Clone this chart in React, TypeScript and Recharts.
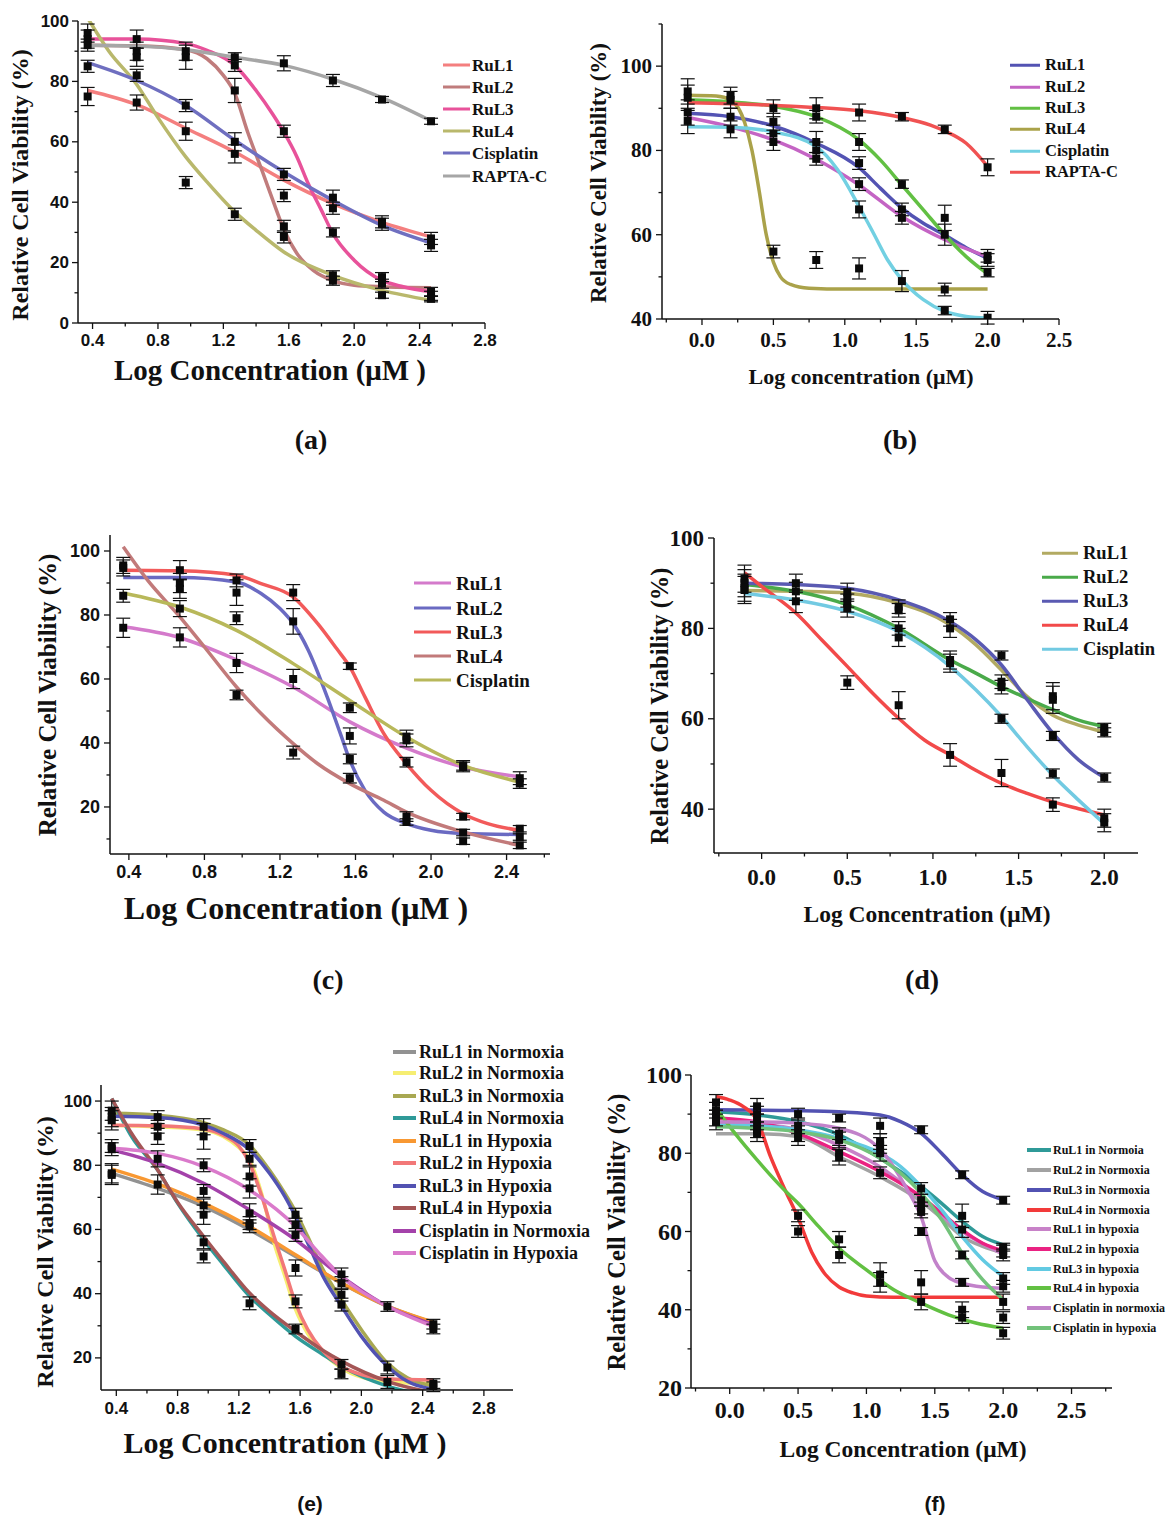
import { ComposedChart, Line, Scatter, XAxis, YAxis, ErrorBar } from 'recharts'

type Pt = [number, number]
type Obs = [number, number, number]

const SERIF = '"Liberation Serif", "Times New Roman", serif'
const SANS = '"Liberation Sans", Arial, sans-serif'

// ---------- (a) ----------
const aNames = ['RuL1', 'RuL2', 'RuL3', 'RuL4', 'Cisplatin', 'RAPTA-C']
const aColors = ['#f47f7f', '#c07c7c', '#e8529a', '#b9b86c', '#6f6fc0', '#a6a6a6']
const aCurves: Pt[][] = [
  [[0.37, 77], [0.67, 72.3], [0.97, 64.5], [1.27, 56.6], [1.57, 47.3], [1.87, 39.5], [2.17, 33.3], [2.47, 28.5]],
  [[0.37, 92], [0.67, 91.8], [0.97, 90.5], [1.1, 87.5], [1.2, 82], [1.27, 76], [1.35, 63], [1.45, 48.5], [1.5, 41], [1.57, 31], [1.65, 23], [1.75, 17.4], [1.87, 14], [2.0, 12.5], [2.17, 12], [2.47, 11.7]],
  [[0.37, 94], [0.67, 94], [0.97, 92.5], [1.1, 90.3], [1.27, 85.3], [1.4, 77], [1.5, 69.3], [1.57, 63.2], [1.65, 55], [1.72, 46], [1.8, 37.3], [1.87, 29.6], [2.0, 20.8], [2.17, 14.1], [2.3, 12], [2.47, 10.3]],
  [[0.37, 101], [0.5, 90], [0.67, 79], [0.8, 68], [0.97, 55], [1.1, 46.7], [1.27, 36.8], [1.4, 30.7], [1.57, 23.5], [1.87, 15.8], [2.17, 10.8], [2.47, 7.5]],
  [[0.37, 86.2], [0.67, 80.3], [0.97, 72], [1.27, 60.5], [1.57, 50], [1.87, 40.6], [2.17, 32.3], [2.47, 26.5]],
  [[0.37, 92], [0.67, 91.7], [0.97, 90.5], [1.27, 88], [1.57, 85.3], [1.87, 80.7], [2.17, 74.6], [2.47, 66.9]],
]
const aPoints: Obs[] = [
  [0.37, 96, 3], [0.37, 94, 3], [0.37, 92, 2], [0.37, 85, 2], [0.37, 75, 3],
  [0.67, 94, 3], [0.67, 90, 3], [0.67, 88, 3], [0.67, 82, 2], [0.67, 73, 2.5],
  [0.97, 90, 3], [0.97, 88, 4], [0.97, 72, 2], [0.97, 63.5, 3], [0.97, 46.5, 2],
  [1.27, 88, 1.5], [1.27, 85.3, 2], [1.27, 77, 4], [1.27, 60, 3], [1.27, 56, 3], [1.27, 36, 2],
  [1.57, 86, 2.5], [1.57, 63.5, 2], [1.57, 49.2, 2], [1.57, 42.2, 2], [1.57, 32, 2], [1.57, 28.5, 2],
  [1.87, 80.3, 2], [1.87, 41.5, 2.5], [1.87, 38, 2], [1.87, 30, 1.5], [1.87, 15.8, 1.5], [1.87, 14, 1.5],
  [2.17, 74, 1], [2.17, 33.5, 2], [2.17, 32.7, 2], [2.17, 15.2, 1.5], [2.17, 13, 1.5], [2.17, 9.2, 1],
  [2.47, 66.8, 1], [2.47, 28, 2], [2.47, 25.7, 2], [2.47, 10.3, 1.5], [2.47, 9, 1.5], [2.47, 8, 1],
]
const aXTicks = [0.4, 0.6, 0.8, 1.0, 1.2, 1.4, 1.6, 1.8, 2.0, 2.2, 2.4, 2.6, 2.8]
const aXMajor = [0.4, 0.8, 1.2, 1.6, 2.0, 2.4, 2.8]
const aYTicks = [0, 10, 20, 30, 40, 50, 60, 70, 80, 90, 100]
const aYMajor = [0, 20, 40, 60, 80, 100]

// ---------- (b) ----------
const bNames = ['RuL1', 'RuL2', 'RuL3', 'RuL4', 'Cisplatin', 'RAPTA-C']
const bColors = ['#5353b3', '#c464c4', '#62c043', '#aaa24a', '#72d0e2', '#f05252']
const bCurves: Pt[][] = [
  [[-0.1, 88.8], [0.2, 88], [0.5, 85.8], [0.8, 81.7], [1.1, 75.9], [1.25, 71], [1.4, 66.3], [1.55, 62.7], [1.7, 59.9], [1.85, 56.9], [2.0, 54.4]],
  [[-0.1, 87.8], [0.2, 85.6], [0.5, 82.5], [0.8, 77.9], [1.1, 71.8], [1.4, 64.3], [1.7, 58.8], [2.0, 54.8]],
  [[-0.1, 92], [0.2, 91.5], [0.5, 90.5], [0.8, 88], [1.1, 82.5], [1.25, 77.7], [1.4, 71.8], [1.55, 65.9], [1.7, 60], [1.85, 54.8], [2.0, 50.7]],
  [[-0.1, 93.1], [0.1, 92.9], [0.2, 92], [0.3, 86.5], [0.35, 80], [0.4, 70.5], [0.45, 60], [0.5, 53.5], [0.55, 50], [0.62, 48.2], [0.75, 47.3], [1.0, 47.1], [2.0, 47.1]],
  [[-0.1, 85.6], [0.2, 85.5], [0.5, 84.4], [0.8, 80.9], [0.95, 75.4], [1.1, 66.7], [1.2, 60.4], [1.3, 54], [1.4, 49.3], [1.55, 44.6], [1.7, 41.8], [1.85, 40.6], [2.0, 40.2]],
  [[-0.1, 91.3], [0.2, 91.1], [0.5, 90.7], [0.8, 90.2], [1.1, 89.4], [1.4, 87.8], [1.6, 86], [1.7, 84.6], [1.85, 81.7], [2.0, 76.2]],
]
const bPoints: Obs[] = [
  [-0.1, 94, 3], [-0.1, 92.5, 3], [-0.1, 89, 3], [-0.1, 87, 3],
  [0.2, 93, 2], [0.2, 92, 2], [0.2, 88, 2], [0.2, 85, 2],
  [0.5, 90, 2], [0.5, 86.8, 2], [0.5, 84, 2], [0.5, 82, 2], [0.5, 56, 1.5],
  [0.8, 90, 2.5], [0.8, 88, 1.5], [0.8, 82, 2.5], [0.8, 80, 2], [0.8, 78, 1.5], [0.8, 54, 2],
  [1.1, 89, 2], [1.1, 82, 2], [1.1, 77, 1.5], [1.1, 72, 1.5], [1.1, 66, 2], [1.1, 52, 2.5],
  [1.4, 88, 1], [1.4, 72, 1], [1.4, 66, 1.5], [1.4, 64, 1.5], [1.4, 49, 2.5],
  [1.7, 85, 1], [1.7, 64, 3], [1.7, 60, 2.5], [1.7, 47, 1.5], [1.7, 42, 1],
  [2.0, 76, 2], [2.0, 55, 1.5], [2.0, 54, 1.5], [2.0, 51, 1], [2.0, 40.3, 1.5],
]
const bXTicks = [-0.25, 0, 0.25, 0.5, 0.75, 1.0, 1.25, 1.5, 1.75, 2.0, 2.25, 2.5]
const bXMajor = [0, 0.5, 1.0, 1.5, 2.0, 2.5]
const bYTicks = [40, 50, 60, 70, 80, 90, 100, 110]
const bYMajor = [40, 60, 80, 100]

// ---------- (c) ----------
const cNames = ['RuL1', 'RuL2', 'RuL3', 'RuL4', 'Cisplatin']
const cColors = ['#d47acb', '#6a6ac2', '#f25a5a', '#c27a7a', '#b8b85a']
const cCurves: Pt[][] = [
  [[0.37, 76.3], [0.67, 72.9], [0.97, 66], [1.27, 57.5], [1.57, 46.6], [1.87, 38.4], [2.17, 32.5], [2.47, 29.4]],
  [[0.37, 91.7], [0.67, 91.7], [0.97, 90.3], [1.1, 86.7], [1.2, 82], [1.27, 77.3], [1.35, 69], [1.45, 54.4], [1.52, 42.9], [1.57, 34.6], [1.65, 25.2], [1.75, 18.4], [1.87, 14.8], [2.0, 12.7], [2.17, 11.7], [2.47, 11.4]],
  [[0.37, 94], [0.67, 93.8], [0.97, 92.4], [1.1, 89.8], [1.27, 85.6], [1.4, 77.3], [1.5, 69.5], [1.57, 63.8], [1.65, 54.4], [1.75, 42.9], [1.87, 33.5], [2.0, 25.2], [2.17, 17.9], [2.3, 14.8], [2.47, 12.7]],
  [[0.37, 101.3], [0.5, 90.8], [0.67, 79.4], [0.8, 70], [0.97, 57.5], [1.1, 49.2], [1.27, 39.8], [1.4, 33.5], [1.57, 27.3], [1.75, 22.1], [1.87, 18.4], [2.17, 12.2], [2.47, 8]],
  [[0.37, 86.9], [0.67, 82.5], [0.97, 75.2], [1.27, 64.8], [1.57, 53.3], [1.87, 41.9], [2.17, 33], [2.47, 27.8]],
]
const cPoints: Obs[] = [
  [0.37, 95.5, 2.5], [0.37, 94.7, 2.5], [0.37, 86, 2], [0.37, 76, 3],
  [0.67, 94, 3], [0.67, 90, 3], [0.67, 88.2, 3], [0.67, 82, 2.5], [0.67, 73, 3],
  [0.97, 90.8, 2], [0.97, 87, 4], [0.97, 79, 2], [0.97, 65, 3], [0.97, 55, 1.5],
  [1.27, 87, 2.5], [1.27, 78, 4], [1.27, 60, 3], [1.27, 37, 2],
  [1.57, 64, 1], [1.57, 51, 1.5], [1.57, 42.2, 2.5], [1.57, 35, 1.5], [1.57, 29, 1.5],
  [1.87, 42, 2], [1.87, 40.8, 2], [1.87, 34, 1.5], [1.87, 17, 1.5], [1.87, 15.3, 1],
  [2.17, 33, 1.5], [2.17, 32.5, 1.5], [2.17, 17, 1], [2.17, 12, 1], [2.17, 9.3, 1],
  [2.47, 29, 2], [2.47, 27.3, 1.5], [2.47, 13.2, 1], [2.47, 10.6, 1], [2.47, 8, 1],
]
const cXTicks = [0.4, 0.6, 0.8, 1.0, 1.2, 1.4, 1.6, 1.8, 2.0, 2.2, 2.4, 2.6]
const cXMajor = [0.4, 0.8, 1.2, 1.6, 2.0, 2.4]
const cYTicks = [10, 20, 30, 40, 50, 60, 70, 80, 90, 100]
const cYMajor = [20, 40, 60, 80, 100]

// ---------- (d) ----------
const dNames = ['RuL1', 'RuL2', 'RuL3', 'RuL4', 'Cisplatin']
const dColors = ['#b2aa62', '#4aaa4a', '#5a5ab2', '#f24a4a', '#72cae2']
const dCurves: Pt[][] = [
  [[-0.1, 88.4], [0.2, 88.2], [0.5, 87.8], [0.8, 85.6], [1.1, 80.8], [1.25, 76.4], [1.4, 70.8], [1.55, 64.9], [1.7, 60.8], [1.85, 58.6], [2.0, 57.1]],
  [[-0.1, 89.7], [0.2, 88.2], [0.5, 85.2], [0.8, 80], [1.1, 73], [1.25, 70.1], [1.4, 67.1], [1.55, 64.5], [1.7, 62], [1.85, 59.7], [2.0, 58.3]],
  [[-0.1, 90], [0.2, 89.7], [0.5, 88.9], [0.8, 86.3], [1.1, 81.5], [1.25, 77.5], [1.4, 71.9], [1.55, 64.2], [1.7, 56.8], [1.85, 50.9], [2.0, 47]],
  [[-0.1, 92.3], [0.0, 89.3], [0.2, 83.4], [0.35, 77.5], [0.5, 71.6], [0.65, 65.6], [0.8, 60.1], [0.95, 55.3], [1.1, 52], [1.25, 48.6], [1.4, 45.7], [1.55, 43.5], [1.7, 41.6], [1.85, 40.1], [2.0, 38.7]],
  [[-0.1, 87.7], [0.2, 86.3], [0.5, 83.8], [0.8, 79.3], [1.1, 71.6], [1.25, 66.4], [1.4, 60.5], [1.55, 53.8], [1.7, 47.5], [1.85, 42], [2.0, 36.8]],
]
const dPoints: Obs[] = [
  [-0.1, 91, 3], [-0.1, 90, 3], [-0.1, 89, 3], [-0.1, 88.5, 3],
  [0.2, 90, 2], [0.2, 88.2, 2], [0.2, 86, 2.5],
  [0.5, 88, 2], [0.5, 86.7, 2], [0.5, 85.6, 2], [0.5, 84.5, 2], [0.5, 68, 1.5],
  [0.8, 84.8, 1.5], [0.8, 84, 1.5], [0.8, 80, 1.5], [0.8, 78, 2], [0.8, 63, 3],
  [1.1, 82, 1.5], [1.1, 80, 2], [1.1, 73, 2], [1.1, 72.3, 2], [1.1, 52, 2.5],
  [1.4, 74, 1], [1.4, 68.2, 1.5], [1.4, 67, 1.5], [1.4, 60, 1], [1.4, 48, 3],
  [1.7, 65, 3], [1.7, 64.2, 3], [1.7, 56.2, 1], [1.7, 47.9, 1], [1.7, 41, 1.5],
  [2.0, 58, 1], [2.0, 57, 1], [2.0, 47, 1], [2.0, 38, 2], [2.0, 37, 2],
]
const dXTicks = [-0.25, 0, 0.25, 0.5, 0.75, 1.0, 1.25, 1.5, 1.75, 2.0]
const dXMajor = [0, 0.5, 1.0, 1.5, 2.0]
const dYTicks = [40, 50, 60, 70, 80, 90, 100]
const dYMajor = [40, 60, 80, 100]

// ---------- (e) ----------
const eNames = [
  'RuL1 in Normoxia', 'RuL2 in Normoxia', 'RuL3 in Normoxia', 'RuL4 in Normoxia',
  'RuL1 in Hypoxia', 'RuL2 in Hypoxia', 'RuL3 in Hypoxia', 'RuL4 in Hypoxia',
  'Cisplatin in Normoxia', 'Cisplatin in Hypoxia',
]
const eColors = ['#929292', '#f6ee72', '#a8a852', '#2f9a98', '#f89832', '#f27878', '#5252b2', '#a45656', '#a442aa', '#da7acb']
const eCurves: Pt[][] = [
  [[0.37, 77.5], [0.67, 72.8], [0.97, 67.2], [1.27, 59.9], [1.57, 51.6], [1.87, 43.3], [2.17, 36.1], [2.47, 30.9]],
  [[0.37, 92.5], [0.67, 92], [0.97, 91], [1.1, 88.9], [1.2, 85.5], [1.27, 81.7], [1.35, 71], [1.43, 55.8], [1.5, 45.5], [1.57, 35.1], [1.65, 27.5], [1.75, 21.5], [1.87, 16.8], [2.0, 14], [2.17, 12.6], [2.47, 12]],
  [[0.37, 96.2], [0.67, 95.6], [0.97, 93.3], [1.1, 91], [1.27, 86.3], [1.4, 78.5], [1.5, 71.3], [1.57, 65.6], [1.65, 57.8], [1.75, 47.5], [1.87, 38.1], [2.0, 28.8], [2.17, 18.4], [2.3, 13.8], [2.47, 11.2]],
  [[0.37, 100.8], [0.5, 88.9], [0.67, 78.5], [0.8, 68.2], [0.97, 56.8], [1.1, 49], [1.27, 39.2], [1.4, 33.5], [1.57, 26.7], [1.75, 21], [1.87, 17.4], [2.17, 11.2], [2.47, 8.1]],
  [[0.37, 78.8], [0.67, 74.2], [0.97, 68.2], [1.27, 60.9], [1.57, 52.1], [1.87, 43.3], [2.17, 36.1], [2.47, 31.1]],
  [[0.37, 92.5], [0.67, 92.3], [0.97, 91.3], [1.1, 89.3], [1.2, 86], [1.27, 80.6], [1.35, 70.3], [1.43, 57.8], [1.5, 47.5], [1.57, 37.1], [1.65, 28.8], [1.75, 22.1], [1.87, 17.4], [2.0, 14.8], [2.17, 13.5], [2.47, 13.1]],
  [[0.37, 95.3], [0.67, 94.9], [0.97, 92.5], [1.1, 89.9], [1.27, 84.8], [1.4, 77.5], [1.5, 70.3], [1.57, 64], [1.65, 55.8], [1.75, 45.4], [1.87, 36.1], [2.0, 26.7], [2.17, 17.4], [2.3, 12.7], [2.47, 10.2]],
  [[0.37, 100.8], [0.5, 89.9], [0.67, 78.5], [0.8, 68.5], [0.97, 57.8], [1.1, 50], [1.27, 40.2], [1.4, 34.5], [1.57, 28.3], [1.75, 22.3], [1.87, 19], [2.17, 12.7], [2.47, 9.1]],
  [[0.37, 84.8], [0.67, 80.6], [0.97, 74.4], [1.27, 66.1], [1.57, 56.8], [1.87, 45.4], [2.17, 36.1], [2.47, 30.4]],
  [[0.37, 85.3], [0.67, 83.7], [0.97, 79.6], [1.27, 72.3], [1.57, 60.9], [1.72, 52.8], [1.87, 45.4], [2.17, 36.1], [2.47, 29.8]],
]
const ePoints: Obs[] = [
  [0.37, 97, 3], [0.37, 95, 3], [0.37, 94, 3], [0.37, 86, 2], [0.37, 85, 2], [0.37, 77.5, 3], [0.37, 77, 3],
  [0.67, 95, 2], [0.67, 92, 2], [0.67, 89, 2.5], [0.67, 82, 2.5], [0.67, 74, 3],
  [0.97, 92, 2.5], [0.97, 89, 4], [0.97, 80, 2], [0.97, 72, 2], [0.97, 67.5, 2], [0.97, 64.6, 3], [0.97, 56, 2], [0.97, 51.6, 2],
  [1.27, 86, 2], [1.27, 82, 2], [1.27, 76.5, 3], [1.27, 72.8, 3], [1.27, 65, 3], [1.27, 62, 2], [1.27, 61, 2], [1.27, 37, 2],
  [1.57, 64.6, 2], [1.57, 61.5, 2], [1.57, 58.3, 2], [1.57, 48, 2.5], [1.57, 37.6, 2], [1.57, 29, 1.5],
  [1.87, 46, 2], [1.87, 43.3, 2], [1.87, 39.7, 2], [1.87, 36.6, 2], [1.87, 18, 1.5], [1.87, 15, 1.5],
  [2.17, 36, 1.5], [2.17, 17, 2], [2.17, 12.5, 2],
  [2.47, 30.5, 1.5], [2.47, 29, 1.5], [2.47, 12, 1.5], [2.47, 11, 1.5],
]
const eXTicks = [0.4, 0.6, 0.8, 1.0, 1.2, 1.4, 1.6, 1.8, 2.0, 2.2, 2.4, 2.6, 2.8]
const eXMajor = [0.4, 0.8, 1.2, 1.6, 2.0, 2.4, 2.8]
const eYTicks = [20, 30, 40, 50, 60, 70, 80, 90, 100]
const eYMajor = [20, 40, 60, 80, 100]

// ---------- (f) ----------
const fNames = [
  'RuL1 in Normoia', 'RuL2 in Normoxia', 'RuL3 in Normoxia', 'RuL4 in Normoxia',
  'RuL1 in hypoxia', 'RuL2 in hypoxia', 'RuL3 in hypoxia', 'RuL4 in hypoxia',
  'Cisplatin in normoxia', 'Cisplatin in hypoxia',
]
const fColors = ['#2f9a98', '#a2a2a2', '#5252b2', '#f23a3a', '#c882c8', '#ea2282', '#62cae2', '#62c042', '#c282ca', '#72c27a']
const fCurves: Pt[][] = [
  [[-0.1, 90.6], [0.2, 89.8], [0.5, 88.1], [0.8, 84.7], [1.1, 78.7], [1.4, 71.5], [1.55, 67.2], [1.7, 62.6], [1.85, 58.7], [2.0, 56.6]],
  [[-0.1, 85], [0.2, 85], [0.5, 84.3], [0.8, 79.1], [1.1, 74], [1.4, 67.7], [1.55, 63.4], [1.7, 58.7], [1.85, 56.2], [2.0, 54.5]],
  [[-0.1, 91.1], [0.5, 90.9], [0.8, 90.6], [1.1, 89.8], [1.25, 88.1], [1.4, 85.1], [1.55, 80], [1.7, 74.5], [1.85, 70.2], [2.0, 68.1]],
  [[-0.1, 94.5], [0.0, 93.6], [0.1, 91.9], [0.2, 88.5], [0.3, 79], [0.4, 71], [0.5, 63.5], [0.6, 54.7], [0.7, 49], [0.8, 45.8], [0.9, 44.3], [1.0, 43.5], [1.2, 43.2], [2.0, 43.2]],
  [[-0.1, 88], [0.2, 87.5], [0.5, 86], [0.8, 82], [1.1, 76.5], [1.4, 68.5], [1.7, 60], [2.0, 54.2]],
  [[-0.1, 89], [0.2, 88], [0.5, 85.1], [0.8, 80.4], [1.1, 75.3], [1.4, 68.9], [1.55, 64.7], [1.7, 60.4], [1.85, 57], [2.0, 55.1]],
  [[-0.1, 87.2], [0.2, 87], [0.5, 86], [0.8, 83.8], [1.1, 80], [1.25, 76.6], [1.4, 71.5], [1.55, 65.5], [1.7, 58.7], [1.85, 52.8], [2.0, 48.5]],
  [[-0.1, 91.5], [0.0, 86.8], [0.2, 78.3], [0.4, 70.6], [0.5, 67.2], [0.65, 61.3], [0.8, 55.7], [1.0, 50.2], [1.2, 45.1], [1.4, 41.7], [1.6, 38.7], [1.8, 36.6], [2.0, 35.3]],
  [[-0.1, 88], [0.2, 88], [0.5, 87.7], [0.8, 86.4], [1.1, 81], [1.3, 70.6], [1.4, 63.8], [1.5, 52.5], [1.6, 48.3], [1.7, 46.8], [1.85, 45.8], [2.0, 45.5]],
  [[-0.1, 86.8], [0.2, 86.4], [0.5, 85.5], [0.8, 83.4], [1.1, 78.7], [1.25, 74.9], [1.4, 69.8], [1.55, 63], [1.7, 54.5], [1.85, 47.7], [2.0, 42.6]],
]
const fPoints: Obs[] = [
  [-0.1, 93, 2], [-0.1, 91, 2], [-0.1, 89, 2], [-0.1, 88, 2],
  [0.2, 92, 2], [0.2, 90, 2], [0.2, 88, 2], [0.2, 86, 2], [0.2, 85, 2],
  [0.5, 90, 1.5], [0.5, 87, 2], [0.5, 85, 2], [0.5, 84, 2], [0.5, 64, 1.5], [0.5, 60, 1.5],
  [0.8, 89, 1], [0.8, 85, 1.5], [0.8, 83.4, 2], [0.8, 80, 2], [0.8, 79, 2], [0.8, 58, 2], [0.8, 54, 2],
  [1.1, 87, 2], [1.1, 83, 2], [1.1, 82, 2], [1.1, 80, 2], [1.1, 75, 1.5], [1.1, 49, 3], [1.1, 47, 2.5],
  [1.4, 86, 1], [1.4, 71, 1.5], [1.4, 68, 1.5], [1.4, 66, 1.5], [1.4, 65, 1.5], [1.4, 60, 1], [1.4, 47, 3], [1.4, 42, 2],
  [1.7, 74.5, 1], [1.7, 64, 3], [1.7, 60.5, 2], [1.7, 54, 1], [1.7, 47, 1], [1.7, 40, 2], [1.7, 38, 1.5],
  [2.0, 68, 1], [2.0, 56, 1], [2.0, 55, 1.5], [2.0, 54, 1.5], [2.0, 48, 1.5], [2.0, 46, 1.5], [2.0, 42, 2], [2.0, 38, 1.5], [2.0, 34, 1.5],
]
const fXTicks = [-0.25, 0, 0.25, 0.5, 0.75, 1.0, 1.25, 1.5, 1.75, 2.0, 2.25, 2.5, 2.75]
const fXMajor = [0, 0.5, 1.0, 1.5, 2.0, 2.5]
const fYTicks = [20, 30, 40, 50, 60, 70, 80, 90, 100]
const fYMajor = [20, 40, 60, 80, 100]

interface Rect { left: number; top: number; width: number; height: number }
interface Plot { left: number; top: number; right: number; bottom: number }

interface PanelSpec {
  box: Rect
  plot: Plot
  xDomain: [number, number]
  yDomain: [number, number]
  xTicks: number[]
  xMajor: number[]
  yTicks: number[]
  yMajor: number[]
  tickFont: string
  tickSize: number
  xLabelDy: number
  yLabelGap: number
  names: string[]
  colors: string[]
  curves: Pt[][]
  points: Obs[]
  legend: { lineX: number; lineW: number; textX: number; rows: number[]; size: number }
  xTitle: string
  xTitlePos: [number, number, number]
  yTitlePos: [number, number, number]
  caption: string
  captionPos: [number, number, number]
  captionFont: string
}

const isMajor = (list: number[], v: number) => list.some((m) => Math.abs(m - v) < 1e-6)

function AxisTick(props: any) {
  const { x, y, payload, side, major, font, size, gap, digits } = props
  const v = payload.value as number
  const big = isMajor(major, v)
  const len = big ? 6 : 3.5
  const label = digits > 0 ? v.toFixed(digits) : String(Math.round(v))
  if (side === 'x') {
    return (
      <g>
        <line x1={x} y1={y} x2={x} y2={y + len} stroke="#111" strokeWidth={1.3} />
        {big && (
          <text x={x} y={y + gap} textAnchor="middle" dominantBaseline="central" fontFamily={font} fontSize={size} fontWeight={700} fill="#111">
            {label}
          </text>
        )}
      </g>
    )
  }
  return (
    <g>
      <line x1={x} y1={y} x2={x - len} y2={y} stroke="#111" strokeWidth={1.3} />
      {big && (
        <text x={x - gap} y={y} textAnchor="end" dominantBaseline="central" fontFamily={font} fontSize={size} fontWeight={700} fill="#111">
          {label}
        </text>
      )}
    </g>
  )
}

function Txt({ x, y, size, font = SERIF, rotate = false, children }: any) {
  return (
    <div
      style={{
        position: 'absolute',
        left: x,
        top: y,
        transform: `translate(-50%, -50%)${rotate ? ' rotate(-90deg)' : ''}`,
        fontFamily: font,
        fontSize: size,
        fontWeight: 700,
        lineHeight: 1,
        whiteSpace: 'nowrap',
        color: '#111',
      }}
    >
      {children}
    </div>
  )
}

function Panel({ spec }: { spec: PanelSpec }) {
  const { box, plot, legend } = spec
  const margin = { top: plot.top - box.top, right: box.left + box.width - plot.right, bottom: 0, left: 0 }
  const pts = spec.points.map(([x, y, err]) => ({ x, y, err }))
  const axisLine = { stroke: '#111', strokeWidth: 1.5 }

  return (
    <>
      <div style={{ position: 'absolute', left: box.left, top: box.top }}>
        <ComposedChart width={box.width} height={box.height} margin={margin}>
          <XAxis
            type="number"
            dataKey="x"
            domain={spec.xDomain}
            allowDataOverflow
            ticks={spec.xTicks}
            interval={0}
            height={box.top + box.height - plot.bottom}
            tickSize={0}
            tickMargin={0}
            tickLine={false}
            axisLine={axisLine}
            tick={(t: any) => (
              <AxisTick {...t} side="x" major={spec.xMajor} font={spec.tickFont} size={spec.tickSize} gap={spec.xLabelDy} digits={1} />
            )}
          />
          <YAxis
            type="number"
            dataKey="y"
            domain={spec.yDomain}
            allowDataOverflow
            ticks={spec.yTicks}
            interval={0}
            width={plot.left - box.left}
            tickSize={0}
            tickMargin={0}
            tickLine={false}
            axisLine={axisLine}
            tick={(t: any) => (
              <AxisTick {...t} side="y" major={spec.yMajor} font={spec.tickFont} size={spec.tickSize} gap={spec.yLabelGap} digits={0} />
            )}
          />
          {spec.curves.map((c, i) => (
            <Line
              key={spec.names[i]}
              name={spec.names[i]}
              data={c.map(([x, y]) => ({ x, y }))}
              dataKey="y"
              type="monotone"
              stroke={spec.colors[i]}
              strokeWidth={3.5}
              dot={false}
              activeDot={false}
              isAnimationActive={false}
            />
          ))}
          <Scatter data={pts} dataKey="y" fill="#0a0a0a" shape="square" isAnimationActive={false}>
            <ErrorBar dataKey="err" direction="y" width={7} stroke="#111" strokeWidth={1.2} />
          </Scatter>
        </ComposedChart>
      </div>

      {spec.names.map((n, i) => (
        <div
          key={n}
          style={{
            position: 'absolute',
            left: legend.lineX,
            top: legend.rows[i],
            transform: 'translateY(-50%)',
            display: 'flex',
            alignItems: 'center',
            whiteSpace: 'nowrap',
          }}
        >
          <div style={{ width: legend.lineW, height: 3.5, background: spec.colors[i] }} />
          <div
            style={{
              marginLeft: legend.textX - legend.lineX - legend.lineW,
              fontFamily: SERIF,
              fontWeight: 700,
              fontSize: legend.size,
              lineHeight: 1,
              color: '#111',
            }}
          >
            {n}
          </div>
        </div>
      ))}

      <Txt x={spec.xTitlePos[0]} y={spec.xTitlePos[1]} size={spec.xTitlePos[2]}>
        {spec.xTitle}
      </Txt>
      <Txt x={spec.yTitlePos[0]} y={spec.yTitlePos[1]} size={spec.yTitlePos[2]} rotate>
        Relative Cell Viability (%)
      </Txt>
      <Txt x={spec.captionPos[0]} y={spec.captionPos[1]} size={spec.captionPos[2]} font={spec.captionFont}>
        {spec.caption}
      </Txt>
    </>
  )
}

const panels: PanelSpec[] = [
  {
    box: { left: 0, top: 0, width: 580, height: 400 },
    plot: { left: 78, top: 21, right: 485, bottom: 323 },
    xDomain: [0.311, 2.8],
    yDomain: [0, 100],
    xTicks: aXTicks, xMajor: aXMajor, yTicks: aYTicks, yMajor: aYMajor,
    tickFont: SANS, tickSize: 17, xLabelDy: 17, yLabelGap: 9,
    names: aNames, colors: aColors, curves: aCurves, points: aPoints,
    legend: { lineX: 443, lineW: 27, textX: 472, rows: [65, 87, 109, 131, 153, 176], size: 17 },
    xTitle: 'Log Concentration (μM )', xTitlePos: [270, 370, 29], yTitlePos: [20, 185, 24],
    caption: '(a)', captionPos: [311, 440, 28], captionFont: SERIF,
  },
  {
    box: { left: 580, top: 0, width: 587, height: 400 },
    plot: { left: 662, top: 24, right: 1059, bottom: 319 },
    xDomain: [-0.28, 2.5],
    yDomain: [40, 110],
    xTicks: bXTicks, xMajor: bXMajor, yTicks: bYTicks, yMajor: bYMajor,
    tickFont: SERIF, tickSize: 21, xLabelDy: 21, yLabelGap: 10,
    names: bNames, colors: bColors, curves: bCurves, points: bPoints,
    legend: { lineX: 1010, lineW: 30, textX: 1045, rows: [65, 87, 108, 129, 151, 172], size: 16.5 },
    xTitle: 'Log concentration (μM)', xTitlePos: [861, 377, 22], yTitlePos: [598, 173, 23],
    caption: '(b)', captionPos: [900, 440, 28], captionFont: SERIF,
  },
  {
    box: { left: 0, top: 520, width: 580, height: 420 },
    plot: { left: 110, top: 535, right: 550, bottom: 854 },
    xDomain: [0.3, 2.63],
    yDomain: [5.3, 105],
    xTicks: cXTicks, xMajor: cXMajor, yTicks: cYTicks, yMajor: cYMajor,
    tickFont: SANS, tickSize: 18, xLabelDy: 18, yLabelGap: 10,
    names: cNames, colors: cColors, curves: cCurves, points: cPoints,
    legend: { lineX: 414, lineW: 37, textX: 456, rows: [583, 608, 632, 656, 680], size: 19 },
    xTitle: 'Log Concentration (μM )', xTitlePos: [296, 908, 32], yTitlePos: [47, 695, 25],
    caption: '(c)', captionPos: [328, 980, 28], captionFont: SERIF,
  },
  {
    box: { left: 580, top: 520, width: 587, height: 420 },
    plot: { left: 714, top: 538, right: 1138, bottom: 853 },
    xDomain: [-0.278, 2.197],
    yDomain: [30.3, 100],
    xTicks: dXTicks, xMajor: dXMajor, yTicks: dYTicks, yMajor: dYMajor,
    tickFont: SERIF, tickSize: 23, xLabelDy: 24, yLabelGap: 10,
    names: dNames, colors: dColors, curves: dCurves, points: dPoints,
    legend: { lineX: 1042, lineW: 36, textX: 1083, rows: [553, 577, 601, 625, 649], size: 18.5 },
    xTitle: 'Log Concentration (μM)', xTitlePos: [927, 915, 23.5], yTitlePos: [660, 706, 24.5],
    caption: '(d)', captionPos: [922, 980, 28], captionFont: SERIF,
  },
  {
    box: { left: 0, top: 1030, width: 600, height: 440 },
    plot: { left: 101, top: 1085, right: 513, bottom: 1390 },
    xDomain: [0.3, 2.99],
    yDomain: [10, 105],
    xTicks: eXTicks, xMajor: eXMajor, yTicks: eYTicks, yMajor: eYMajor,
    tickFont: SANS, tickSize: 17, xLabelDy: 18, yLabelGap: 9,
    names: eNames, colors: eColors, curves: eCurves, points: ePoints,
    legend: { lineX: 393, lineW: 23, textX: 419, rows: [1052, 1073, 1096, 1118, 1141, 1163, 1186, 1208, 1231, 1253], size: 18 },
    xTitle: 'Log Concentration (μM )', xTitlePos: [285, 1443, 30], yTitlePos: [45, 1252, 24],
    caption: '(e)', captionPos: [310, 1503, 21], captionFont: SANS,
  },
  {
    box: { left: 590, top: 1040, width: 577, height: 430 },
    plot: { left: 691, top: 1075, right: 1112, bottom: 1388 },
    xDomain: [-0.283, 2.796],
    yDomain: [20, 100],
    xTicks: fXTicks, xMajor: fXMajor, yTicks: fYTicks, yMajor: fYMajor,
    tickFont: SERIF, tickSize: 24, xLabelDy: 22, yLabelGap: 9,
    names: fNames, colors: fColors, curves: fCurves, points: fPoints,
    legend: { lineX: 1027, lineW: 24, textX: 1053, rows: [1150, 1170, 1190, 1210, 1229, 1249, 1269, 1288, 1308, 1328], size: 12 },
    xTitle: 'Log Concentration (μM)', xTitlePos: [903, 1450, 23.5], yTitlePos: [617, 1232, 24.5],
    caption: '(f)', captionPos: [935, 1503, 21], captionFont: SANS,
  },
]

export default function App() {
  return (
    <div style={{ position: 'absolute', left: 0, top: 0, width: 1167, height: 1518, background: '#fff', overflow: 'hidden' }}>
      {panels.map((p) => (
        <Panel key={p.caption} spec={p} />
      ))}
    </div>
  )
}
